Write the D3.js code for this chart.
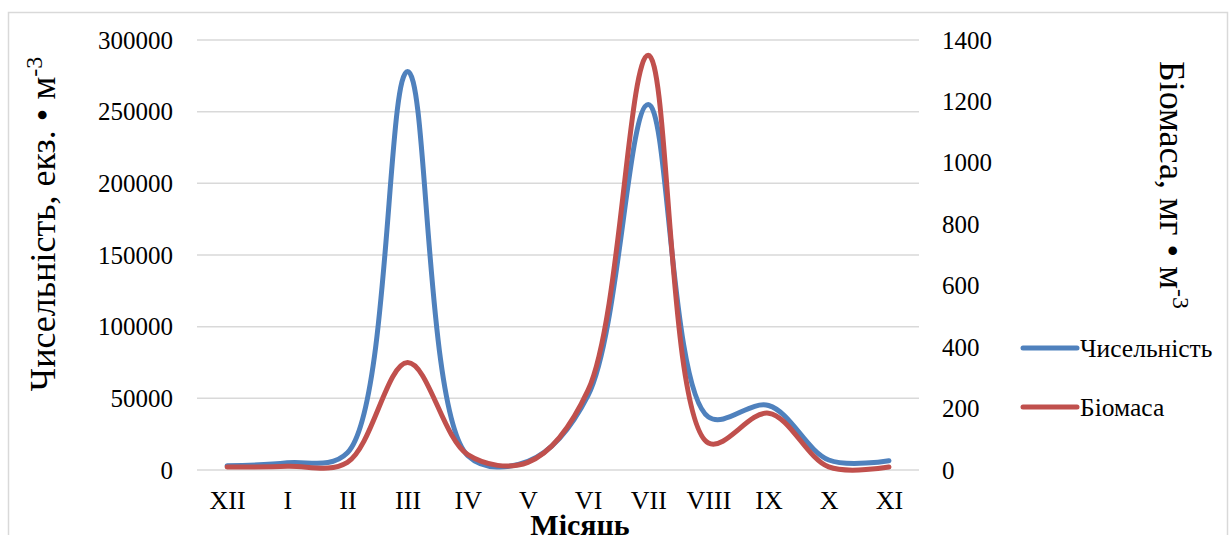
<!DOCTYPE html>
<html>
<head>
<meta charset="utf-8">
<script src="https://cdn.jsdelivr.net/npm/d3@7"></script>
<style>
  body { margin: 0; background: #fff; }
</style>
</head>
<body>
<svg id="chart"></svg>
<script>
// months and the two monthly series
const months = ['XII', 'I', 'II', 'III', 'IV', 'V', 'VI', 'VII', 'VIII', 'IX', 'X', 'XI'];
const abundance = [3000, 5000, 12000, 278000, 10000, 6000, 52000, 255000, 37000, 45000, 7000, 6500];
const biomass = [10, 12, 25, 350, 50, 25, 260, 1350, 88, 185, 10, 10];
const leftTicks = [0, 50000, 100000, 150000, 200000, 250000, 300000];
const rightTicks = [0, 200, 400, 600, 800, 1000, 1200, 1400];

const seriesNames = ['Чисельність', 'Біомаса'];
const colors = ['#4f81bd', '#c0504d'];
const serif = '"Liberation Serif", "Times New Roman", "DejaVu Serif", serif';

const width = 1230, height = 535;
const margin = { top: 40, right: 311, bottom: 65, left: 197 };
const innerW = width - margin.left - margin.right;
const innerH = height - margin.top - margin.bottom;

const svg = d3.select('#chart')
    .attr('width', width)
    .attr('height', height);

// chart area frame
svg.append('rect')
    .attr('x', 8.5).attr('y', 12.5)
    .attr('width', 1219).attr('height', 540)
    .attr('fill', 'none')
    .attr('stroke', '#d9d9d9')
    .attr('stroke-width', 1.5);

const g = svg.append('g')
    .attr('transform', `translate(${margin.left},${margin.top})`);

const x = d3.scalePoint()
    .domain(months)
    .range([0, innerW])
    .padding(0.5);

const yLeft = d3.scaleLinear().domain([0, 300000]).range([innerH, 0]);
const yRight = d3.scaleLinear().domain([0, 1400]).range([innerH, 0]);

// gridlines
g.selectAll('.grid')
    .data(leftTicks)
    .join('line')
    .attr('class', 'grid')
    .attr('x1', 0).attr('x2', innerW)
    .attr('y1', d => yLeft(d)).attr('y2', d => yLeft(d))
    .attr('stroke', '#d9d9d9')
    .attr('stroke-width', 1.5);

// left axis labels
g.append('g')
    .call(d3.axisLeft(yLeft).tickValues(leftTicks).tickFormat(d3.format('d')).tickSize(0).tickPadding(24))
    .call(a => a.select('.domain').remove())
    .selectAll('text')
    .style('font-size', '25px');

// right axis labels
g.append('g')
    .attr('transform', `translate(${innerW},0)`)
    .call(d3.axisRight(yRight).tickValues(rightTicks).tickFormat(d3.format('d')).tickSize(0).tickPadding(23))
    .call(a => a.select('.domain').remove())
    .selectAll('text')
    .style('font-size', '25px');

// month labels
g.append('g')
    .attr('transform', `translate(0,${innerH})`)
    .call(d3.axisBottom(x).tickSize(0).tickPadding(21))
    .call(a => a.select('.domain').remove())
    .selectAll('text')
    .style('font-size', '26px');

// series lines, smoothed
const curve = d3.curveCatmullRom.alpha(0.5);

const lineLeft = d3.line()
    .x((d, i) => x(months[i]))
    .y(d => yLeft(d))
    .curve(curve);

const lineRight = d3.line()
    .x((d, i) => x(months[i]))
    .y(d => yRight(d))
    .curve(curve);

g.append('path')
    .attr('d', lineLeft(abundance))
    .attr('fill', 'none')
    .attr('stroke', colors[0])
    .attr('stroke-width', 5)
    .attr('stroke-linecap', 'round');

g.append('path')
    .attr('d', lineRight(biomass))
    .attr('fill', 'none')
    .attr('stroke', colors[1])
    .attr('stroke-width', 5)
    .attr('stroke-linecap', 'round');

// axis titles
const leftTitle = svg.append('text')
    .attr('transform', 'translate(55,224) rotate(-90)')
    .attr('text-anchor', 'middle')
    .style('font-size', '36px');
leftTitle.append('tspan').text('Чисельність, екз. • м');
leftTitle.append('tspan').attr('baseline-shift', 'super').style('font-size', '24px').text('-3');

const rightTitle = svg.append('text')
    .attr('transform', 'translate(1160,185) rotate(90)')
    .attr('text-anchor', 'middle')
    .style('font-size', '36px');
rightTitle.append('tspan').text('Біомаса, мг • м');
rightTitle.append('tspan').attr('baseline-shift', 'super').style('font-size', '24px').text('-3');

svg.append('text')
    .attr('x', margin.left + innerW / 2 + 22)
    .attr('y', 535)
    .attr('text-anchor', 'middle')
    .style('font-size', '30px')
    .style('font-weight', 'bold')
    .text('Місяць');

// legend
const legend = svg.append('g')
    .attr('transform', 'translate(1023,348)');

const items = legend.selectAll('g')
    .data(seriesNames)
    .join('g')
    .attr('transform', (d, i) => `translate(0,${i * 59})`);

items.append('line')
    .attr('x1', 0).attr('x2', 54)
    .attr('stroke', (d, i) => colors[i])
    .attr('stroke-width', 5)
    .attr('stroke-linecap', 'round');

items.append('text')
    .attr('x', 57)
    .attr('dy', '0.35em')
    .style('font-size', '25.5px')
    .text(d => d);

// every label in the same serif face
svg.selectAll('text')
    .attr('font-family', null)
    .style('font-family', serif)
    .style('fill', '#000');
</script>
</body>
</html>
